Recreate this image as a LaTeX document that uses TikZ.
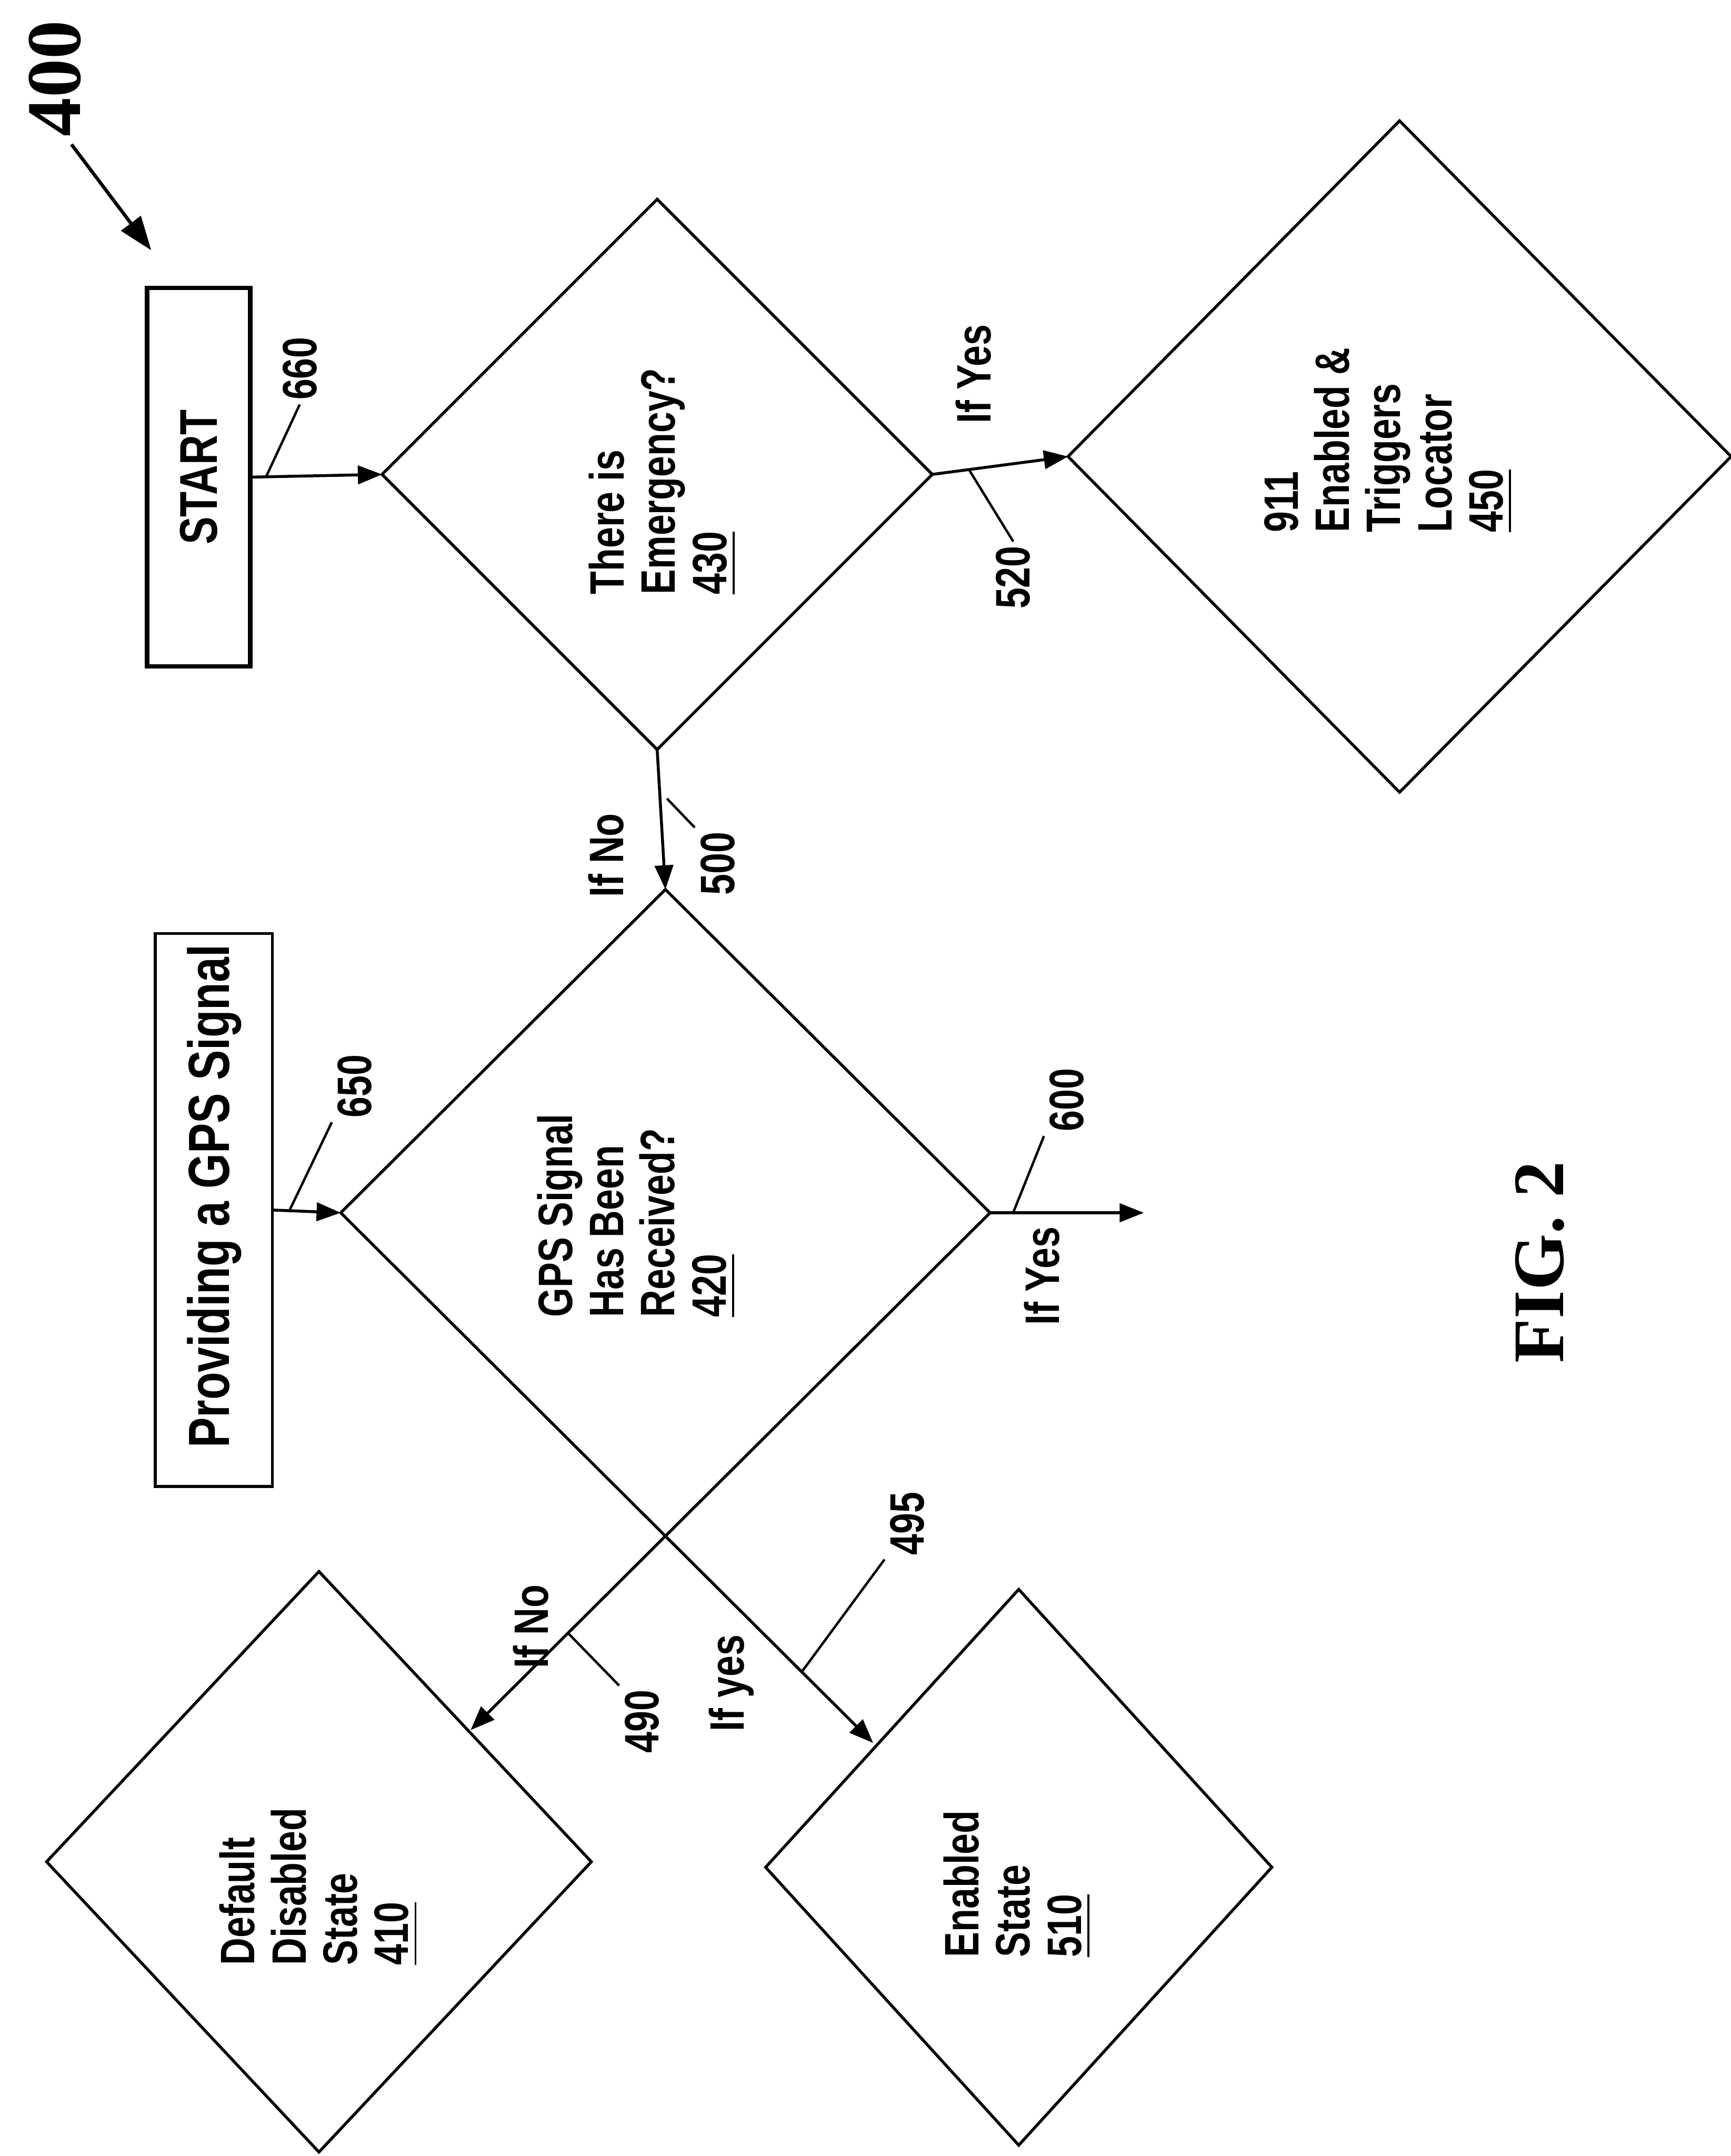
\documentclass[tikz,border=0pt]{standalone}
\usepackage{fontspec}
\setmainfont{Liberation Sans}
\newfontfamily\figserif{Liberation Serif}
\usetikzlibrary{shapes.geometric, arrows.meta, calc}

\tikzset{
  stepbox/.style={draw, line width=0.6pt, inner sep=0pt, outer sep=0pt},
  decision/.style={draw, diamond, line width=0.6pt, inner sep=0pt, outer sep=0pt},
  vtext/.style={rotate=90, xscale=0.78, align=left, inner sep=1pt,
    font=\bfseries\fontsize{10}{10.6}\selectfont},
  figlabel/.style={rotate=90, inner sep=1pt,
    font=\figserif\bfseries\fontsize{16}{16}\selectfont},
  flow/.style={line width=0.6pt, -{Triangle[length=5pt, width=3.8pt]}},
  leader/.style={line width=0.5pt},
}

\begin{document}
\begin{tikzpicture}[x=0.01cm, y=-0.01cm]
  \useasboundingbox (0,0) rectangle (1259,1568);

  % ================================================================
  % Reference numeral and figure title
  % ================================================================

  \node[figlabel] (l400) at (40,57) {400};
  \coordinate (a400s) at (52,105);
  \coordinate (a400e) at (110,182);
  \draw[line width=0.7pt, -{Triangle[length=7pt, width=5pt]}]
    (a400s) -- (a400e);

  \node[figlabel, font=\figserif\bfseries\fontsize{15}{15}\selectfont]
    (fig) at (1120,918) {FIG. 2};

  % ================================================================
  % Boxes
  % ================================================================

  \node[stepbox, line width=0.9pt, minimum width=0.75cm, minimum height=2.75cm]
    (start) at (144.5,347) {};
  \node[vtext, font=\bfseries\fontsize{11}{13}\selectfont]
    (tstart) at (start) {START};

  \node[stepbox, minimum width=0.85cm, minimum height=4.02cm]
    (gps) at (155.5,880) {};
  \node[vtext, font=\bfseries\fontsize{12}{14}\selectfont]
    (tgps) at (156,870) {Providing a GPS Signal};

  % ================================================================
  % Decisions and states (diamonds)
  % ================================================================

  \node[decision, minimum width=4cm, minimum height=4cm]
    (d430) at (478,345) {};
  \node[vtext] (t430) at (482,350)
    {There is\\Emergency?\\\underline{430}};

  \node[decision, minimum width=4.82cm, minimum height=4.88cm]
    (d450) at (1018,332) {};
  \node[vtext] (t450) at (1010,320)
    {911\\Enabled \&\\Triggers\\Locator\\\underline{450}};

  \node[decision, minimum width=4.72cm, minimum height=4.7cm]
    (d420) at (484,882) {};
  \node[vtext] (t420) at (463,884)
    {GPS Signal\\Has Been\\Received?\\\underline{420}};

  \node[decision, minimum width=3.96cm, minimum height=4.22cm]
    (d410) at (232,1354) {};
  \node[vtext] (t410) at (232,1372)
    {Default\\Disabled\\State\\\underline{410}};

  \node[decision, minimum width=3.68cm, minimum height=4.04cm]
    (d510) at (741,1358) {};
  \node[vtext] (t510) at (740,1370)
    {Enabled\\State\\\underline{510}};

  % ================================================================
  % Branch labels and numerals
  % ================================================================

  \node[vtext] (l660) at (218,268) {660};
  \node[vtext] (yes430) at (708,272) {If Yes};
  \node[vtext] (l520) at (737,420) {520};
  \node[vtext] (no430) at (441,622) {If No};
  \node[vtext] (l500) at (522,628) {500};
  \node[vtext] (l650) at (258,790) {650};
  \node[vtext] (l600) at (776,800) {600};
  \node[vtext] (yes420) at (758,928) {If Yes};
  \node[vtext] (l495) at (660,1108) {495};
  \node[vtext] (no420) at (386,1183) {If No};
  \node[vtext] (yes420b) at (532,1224) {If yes};
  \node[vtext] (l490) at (467,1252) {490};

  % ================================================================
  % Arrows
  % ================================================================

  \draw[flow] (start.east) -- (d430.west);
  \draw[flow] (d430.east) -- (d450.west);
  \draw[flow] (d430.south) -- (d420.north);
  \draw[flow] (gps.east) -- (d420.west);

  \coordinate (gpsyes) at (832,882);
  \draw[flow] (d420.east) -- (gpsyes);

  % --- lower edges of 420 run on into 410 and 510 ---
  \draw[flow] (d420.south) -- ($(d420.east)!1.6!(d420.south)$);
  \draw[flow] (d420.south) -- ($(d420.west)!1.64!(d420.south)$);

  % --- leader lines ---
  \draw[leader] ($(start.east)!0.12!(d430.west)$) -- (l660.west);
  \draw[leader] ($(d430.east)!0.27!(d450.west)$) -- (l520.east);
  \draw[leader] ($(d430.south)!0.35!(d420.north)+(5,0)$) -- (l500.north east);
  \draw[leader] ($(gps.east)!0.25!(d420.west)$) -- (l650.north west);
  \draw[leader] ($(d420.east)!0.15!(gpsyes)$) -- (l600.north west);
  \draw[leader] ($(d420.east)!1.3!(d420.south)$) -- (l490.north east);
  \draw[leader] ($(d420.west)!1.42!(d420.south)$) -- (l495.north west);

\end{tikzpicture}
\end{document}
